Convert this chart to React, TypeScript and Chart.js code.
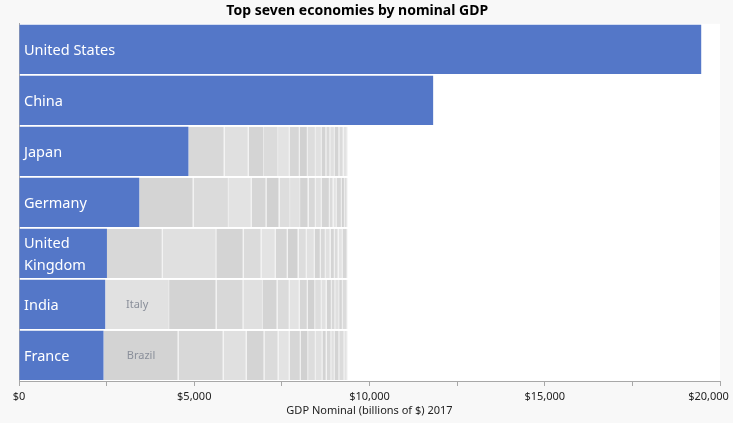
import React, { useEffect, useRef } from "react";
import { Chart, registerables } from "chart.js";

Chart.register(...registerables);

// Top seven economies (billions of $, 2017)
const countries: (string | string[])[] = [
  "United States",
  "China",
  "Japan",
  "Germany",
  ["United", "Kingdom"],
  "India",
  "France",
];
const topGdp = [19464, 11816, 4835, 3433, 2509, 2460, 2412];

// Remaining economies, stacked in grey after each row's own bar
const usOthers: number[] = [];
const chinaOthers: number[] = [];
const japanOthers = [1030, 687, 438, 401, 335, 286, 229, 229, 172, 123, 114, 134, 123, 126, 114];
const germanyOthers = [1545, 1010, 649, 421, 372, 303, 286, 240, 209, 172, 229, 100, 100, 143, 86, 77];
const ukOthers = [1591, 1528, 781, 506, 409, 343, 306, 237, 229, 172, 143, 134, 123, 106, 123, 134];
const indiaOthers = [1822, 1353, 764, 561, 412, 352, 286, 229, 209, 192, 134, 152, 94, 114, 106, 134];
const franceOthers = [2137, 1287, 658, 506, 401, 323, 315, 209, 220, 186, 123, 129, 106, 123, 143, 97];
const othersByRow = [usOthers, chinaOthers, japanOthers, germanyOthers, ukOthers, indiaOthers, franceOthers];

// Names shown on grey segments
const otherLabelRows = [5, 6];
const otherLabelSegs = [0, 0];
const otherLabelNames = ["Italy", "Brazil"];

const xTicks = [0, 5000, 10000, 15000, 20000];

const BLUE = "#5477c8";
const GREYS = ["#d8d8d8", "#e0e0e0", "#d4d4d4", "#dbdbdb", "#e3e3e3", "#d6d6d6", "#d1d1d1", "#dddddd", "#e1e1e1", "#d3d3d3"];
const ROW_SHADE_OFFSET = [0, 0, 0, 2, 0, 8, 9];
const FONT = "'Noto Sans', 'Open Sans', sans-serif";

export default function App() {
  const ref = useRef<HTMLCanvasElement | null>(null);

  useEffect(() => {
    document.body.style.margin = "0";
    const canvas = ref.current;
    if (!canvas) return;

    const maxSeg = Math.max(...othersByRow.map((r) => r.length));
    const greyDatasets = [];
    for (let s = 0; s < maxSeg; s++) {
      greyDatasets.push({
        label: "Other " + (s + 1),
        data: othersByRow.map((r) => (s < r.length ? r[s] : null)),
        backgroundColor: (ctx: any) => GREYS[(s + ROW_SHADE_OFFSET[ctx.dataIndex]) % GREYS.length],
        borderColor: "#e8e8e8",
        borderWidth: { top: 0, right: 1, bottom: 0, left: 0 },
        borderSkipped: false,
        barPercentage: 0.965,
        categoryPercentage: 1,
      });
    }

    const plotBg = {
      id: "plotBg",
      beforeDraw(chart: any) {
        const { ctx, chartArea } = chart;
        ctx.save();
        ctx.fillStyle = "#ffffff";
        ctx.fillRect(chartArea.left, chartArea.top, chartArea.right - chartArea.left, chartArea.bottom - chartArea.top);
        ctx.restore();
      },
    };

    const segLabels = {
      id: "segLabels",
      afterDatasetsDraw(chart: any) {
        const { ctx } = chart;
        ctx.save();
        ctx.font = "11px " + FONT;
        ctx.fillStyle = "#8a8f9a";
        ctx.textAlign = "center";
        ctx.textBaseline = "middle";
        otherLabelNames.forEach((name, i) => {
          const meta = chart.getDatasetMeta(otherLabelSegs[i] + 1);
          const el: any = meta.data[otherLabelRows[i]];
          if (!el) return;
          ctx.fillText(name, (el.x + el.base) / 2, el.y);
        });
        ctx.restore();
      },
    };

    const chart = new Chart(canvas, {
      type: "bar",
      data: {
        labels: countries as any,
        datasets: [
          {
            label: "Top seven",
            data: topGdp,
            backgroundColor: BLUE,
            borderWidth: 0,
            barPercentage: 0.965,
            categoryPercentage: 1,
          },
          ...greyDatasets,
        ] as any,
      },
      options: {
        indexAxis: "y",
        animation: false,
        responsive: true,
        maintainAspectRatio: false,
        layout: { padding: { left: 9, right: 13, top: 0, bottom: 2.5 } },
        plugins: {
          legend: { display: false },
          tooltip: { enabled: false },
          title: {
            display: true,
            text: "Top seven economies by nominal GDP    ",
            color: "#000",
            font: { family: FONT, size: 14, weight: "bold" },
            padding: { top: 3, bottom: 4 },
          },
        },
        scales: {
          x: {
            type: "linear",
            stacked: true,
            min: 0,
            max: 20000,
            afterFit: (axis: any) => {
              axis.paddingLeft = 0;
              axis.paddingRight = 0;
            },
            border: { display: true, color: "#a8a8a8" },
            grid: { drawOnChartArea: false, drawTicks: true, tickLength: 5, tickColor: "#a8a8a8" },
            ticks: {
              stepSize: 2500,
              autoSkip: false,
              maxRotation: 0,
              padding: 5.5,
              color: "#222",
              font: { family: FONT, size: 11, lineHeight: 1 },
              callback: (v: any) => {
                const n = Number(v);
                if (!xTicks.includes(n)) return "";
                const s = "$" + n.toLocaleString("en-US");
                return n === xTicks[xTicks.length - 1] ? s + "        " : s;
              },
            },
            title: {
              display: true,
              text: "GDP Nominal (billions of $) 2017",
              color: "#222",
              font: { family: FONT, size: 11, lineHeight: 1 },
              padding: { top: -2.5, bottom: 4 },
            },
          },
          y: {
            stacked: true,
            afterFit: (axis: any) => {
              axis.paddingTop = 0;
              axis.paddingBottom = 0;
            },
            border: { display: true, color: "#a8a8a8" },
            grid: { display: false, drawTicks: false },
            ticks: {
              z: 1,
              mirror: true,
              padding: 5,
              labelOffset: 1.5,
              color: "#ffffff",
              font: { family: FONT, size: 14.5, lineHeight: 1.55 },
            },
          },
        },
      },
      plugins: [plotBg, segLabels],
    });

    return () => chart.destroy();
  }, []);

  return (
    <div style={{ position: "fixed", left: 0, top: 0, width: 733, height: 423, background: "#f8f8f8" }}>
      <canvas ref={ref} />
    </div>
  );
}
